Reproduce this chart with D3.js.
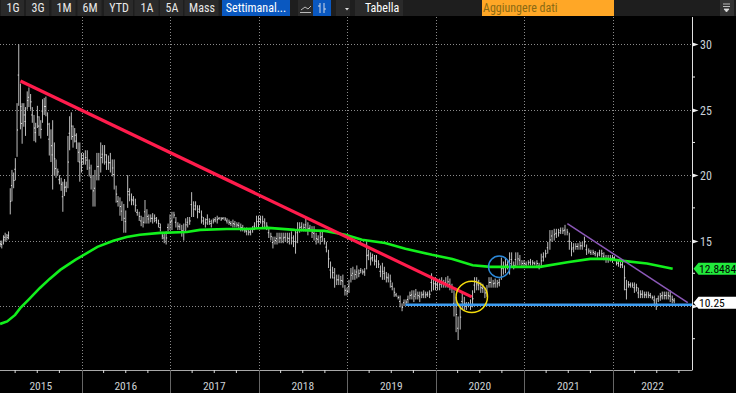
<!DOCTYPE html>
<html><head><meta charset="utf-8">
<script src="https://cdn.jsdelivr.net/npm/d3@7"></script>
<style>html,body{margin:0;padding:0;background:#000;overflow:hidden}svg{display:block}</style>
</head><body><svg id="c" width="736" height="393"></svg>
<script>
// weekly [low, high], one list per calendar year
const bars2015=[[14.5,15],[14.4,15],[14.7,15.4],[14.9,15.6],[15,15.5],[15.1,15.7],[17,19],[18,20.4],[19,20.2],[19.6,21.3],[21.4,25.5],[25.3,30],[23.5,27],[22.4,25.5],[23.7,25.5],[23,25.2],[25,26.4],[25.2,26.7],[25,26.2],[24,25.2],[22.6,24.6],[22.5,24],[23.6,25.3],[23,24.5],[22.8,24.2],[24,25.8],[24.6,25.9],[24.5,26],[23,24.8],[21.5,24],[21,23.5],[18.9,24.2],[20,22.5],[19.8,21.2],[20,20.5],[19.3,20],[18.8,19.8],[17.2,19.5],[18.4,19.7],[18.7,19.5],[19,23],[21.9,24.5],[22.7,24.8],[22.1,23.8],[22.5,23.6],[22,23.2],[21,22.5],[19.5,22.5]];
const bars2016=[[20.2,21.7],[20.8,21.7],[20.8,21.9],[20.4,21.9],[19.9,21.2],[18.9,20.8],[17.6,20],[17.6,20.4],[19.6,21.7],[19.6,21.7],[20.2,22.5],[20.9,22.3],[20.8,22.3],[20.4,21.6],[20.4,21.5],[20.2,21.7],[19.9,21.2],[18.9,21.2],[17.9,19.2],[17.6,18.4],[16.9,18.3],[16.5,18],[15.6,17.8],[15.6,17.3],[17.5,20],[18,19],[17.7,18.6],[17.7,18.4],[17.2,18.2],[16.9,17.4],[16.5,17.2],[16.1,16.9],[16,16.8],[16.3,18.1],[16.3,17.4],[16.3,17],[16.4,17],[16.3,17.1],[16.4,17],[16.3,16.8],[16,16.6],[15.7,16.3],[15.1,15.6],[14.8,15.6],[14.7,15.7],[15.7,16.3]];
const bars2017=[[15.8,17],[15.8,17.2],[16.7,17.2],[16,16.8],[15.8,16.4],[15.8,16.3],[15.3,16.2],[15,16.3],[15.7,16.7],[16,16.8],[16.2,16.8],[16.8,18.7],[16.8,18],[17.3,18],[16.7,17.7],[17.1,17.7],[16.3,17.3],[16.2,16.8],[16,16.7],[16.2,17],[16.2,16.7],[16,16.6],[16.3,16.7],[16.4,16.8],[16.3,16.9],[16.6,16.8],[16.5,16.8],[16.6,16.8],[16.5,16.8],[16.3,16.7],[16.2,16.6],[16.1,16.5],[16,16.6],[16,16.5],[16,16.4],[15.9,16.4],[15.7,16.3],[15.7,16.2],[15.6,16],[15.4,16],[15.4,15.9],[15.4,15.9],[15.6,16.1],[15.8,16.4],[16,16.9]];
const bars2018=[[16,16.9],[16.3,16.9],[16,16.9],[16,16.7],[15.8,16.4],[15.2,16],[15,15.6],[14.4,15.3],[14.7,15.3],[14.7,15.6],[14.8,15.6],[14.8,15.6],[14.8,15.6],[14.9,15.6],[14.8,15.6],[14.7,15.6],[14.7,15.7],[14.5,15.4],[14,15.8],[14.8,16.4],[15.6,16.4],[15.7,16.4],[15.7,16.3],[15.7,16.7],[15.4,16.4],[15.7,16.2],[15.2,16.1],[15,16.1],[14.7,15.6],[14.8,15.4],[14.7,15.8],[14.9,15.7],[14.7,15.2],[14.1,14.9],[12.9,14.3],[12.1,13.4],[12.1,13],[11.4,12.9],[11.6,12.4],[11.6,12.4],[11.6,12.3],[11.4,12.4],[10.8,11.6]];
const bars2019=[[10.8,11.4],[11,12],[11.8,12.9],[12,13],[12,12.8],[12.1,13.1],[12.2,12.8],[12.5,12.9],[12.4,12.8],[12.3,12.9],[12.8,14.9],[13.5,14.3],[13.1,14.1],[13.4,14],[13.1,13.9],[12.9,13.9],[12.9,13.5],[12.2,13.1],[12,13.3],[12,13],[11.8,12.6],[11.8,12.5],[11.4,12.4],[11.2,11.8],[10.7,11.4],[10.7,11],[10.5,10.8],[9.9,10.8],[9.6,10.2],[10,10.5],[10.1,10.5],[10.2,10.8],[10.5,11.1],[10.5,11.2],[10.3,11.2],[10.5,11.3],[10.5,11.1],[10.3,11.1],[10.6,11.1],[10.6,11.2],[10.6,11.1],[10.7,11.1],[10.6,11.2],[11.1,12.5],[11.2,12.2]];
const bars2020=[[11.2,12.2],[11.2,12],[11.2,12.1],[11.4,12.2],[11.4,12],[11.4,12.2],[11.4,12.3],[11.2,12.1],[11,11.7],[9.2,11.2],[8,10.7],[7.4,9.2],[8.2,10.1],[9.7,11],[9.7,10.7],[9.7,10.3],[9.9,10.3],[9.7,10.5],[9.9,11.2],[11,12.2],[11.2,12.2],[11.2,12],[11,11.8],[11,11.7],[10.6,11.4],[10.7,11.6],[11.4,12.2],[11.4,12.2],[11.4,12],[11.4,12.1],[11.4,12],[11.5,12.1],[12,13.7],[12.4,13.4],[12.5,13.7],[12.8,13.5],[12.4,14.1],[13,14.1],[12.8,13.4],[13,14.1],[13.1,14.1],[13.1,13.9],[13,13.5]];
const bars2021=[[13,13.5],[13,13.4],[13.1,13.5],[13.1,13.6],[13.1,13.5],[13.1,13.4],[13,13.5],[12.8,13.3],[12.9,14],[13.4,14.1],[13.7,14.3],[14,14.9],[14.3,15.8],[14.9,15.8],[15,15.9],[15.2,15.9],[15.3,15.9],[15.5,16],[15.5,16],[15.4,16.2],[15.4,15.9],[14.3,15.6],[13.8,14.9],[14.1,14.8],[14.3,14.8],[14.3,14.8],[14.3,14.9],[14.3,14.9],[14.5,15.3],[13.9,14.7],[14,14.4],[13.9,14.3],[13.9,14.3],[13.8,14.2],[13.7,14.1],[13.8,14.3],[13.7,14.3],[13.5,14.1],[13.3,13.9],[13.3,13.9],[13.4,13.9]];
const bars2022=[[13.3,13.9],[13.5,13.8],[13.1,13.5],[13,13.5],[12.9,13.4],[12.9,13.4],[11.2,13.1],[10.5,12],[11.4,11.9],[11.4,11.8],[11.4,11.8],[11,11.8],[11.1,11.7],[10.6,11.4],[10.6,11.2],[10.6,11.2],[10.6,11.1],[10.6,11.1],[10.6,11.1],[10.6,11],[10.5,10.8],[10.1,10.8],[9.7,10.6],[10.3,10.8],[10.4,11],[10.5,11.1],[10.5,11.1],[10.5,11.1],[10.5,11.1],[10.3,11.2],[10.2,10.8],[10.2,10.6]];
const barYears=[bars2015,bars2016,bars2017,bars2018,bars2019,bars2020,bars2021,bars2022];
const barYearStart=[2015.08,2016,2017,2018,2019,2020,2021,2022];
const barYearEnd=[2016,2017,2018,2019,2020,2021,2022,2022.72];

const maYears=[2015.08,2015.16,2015.25,2015.31,2015.40,2015.53,2015.64,2015.76,2015.93,2016.18,2016.36,2016.51,2016.66,2016.89,2017.19,2017.34,2017.64,2017.85,2018.11,2018.41,2018.75,2018.98,2019.17,2019.43,2019.66,2019.96,2020.19,2020.42,2020.62,2020.95,2021.18,2021.49,2021.75,2021.94,2022.12,2022.39,2022.68];
const maValues=[8.63,8.82,9.32,9.85,10.47,11.38,12.07,12.76,13.52,14.52,14.98,15.28,15.44,15.59,15.66,15.82,15.89,15.89,15.97,15.82,15.74,15.44,15.06,14.82,14.37,13.91,13.6,13.12,12.99,12.99,12.99,13.35,13.6,13.6,13.45,13.25,12.85];

const redYears=[2015.31,2020.41], redValues=[27.2,10.7];
const blueYears=[2019.66,2022.9], blueValues=[10.1,10.1];
const purpleYears=[2021.49,2022.85], purpleValues=[16.3,10.25];
const yellowCircle={year:2020.41,value:10.7,r:15.7};
const blueCircle={year:2020.72,value:13.0,r:10.7};

const yTicks=[30,25,20,15,10];
const yLabels=[30,25,20,15];
const yMinor=[27.5,22.5,17.5,12.5,7.5];
const yearLabels=[2015,2016,2017,2018,2019,2020,2021,2022];
const yearLines=[2016,2017,2018,2019,2020,2021,2022];
const lastMA="12.8484", lastPrice="10.25";
const leftButtons=["1G","3G","1M","6M","YTD","1A","5A","Mass"];

const svg=d3.select("#c");
const narrow="'Liberation Sans Narrow','Roboto Condensed','Liberation Sans',sans-serif";
const x=d3.scaleLinear().domain([2016,2022]).range([81.5,612.5]);
const y=d3.scaleLinear().domain([10,30]).range([306,44.3]);
const plotR=692.5, axisY=370;

// grid
const grid=svg.append("g").attr("stroke","#8a8a8a").attr("stroke-dasharray","1,2").attr("stroke-width",1);
yTicks.forEach(t=>grid.append("line").attr("x1",0).attr("x2",plotR).attr("y1",Math.round(y(t))+.5).attr("y2",Math.round(y(t))+.5));
yearLines.forEach(t=>grid.append("line").attr("x1",Math.round(x(t))+.5).attr("x2",Math.round(x(t))+.5).attr("y1",17).attr("y2",axisY));

// price bars
const bars=svg.append("g");
barYears.forEach((list,k)=>{
  const pos=d3.scaleLinear().domain([0,list.length]).range([barYearStart[k],barYearEnd[k]]);
  list.forEach((d,i)=>{
    const xp=x(pos(i));
    bars.append("line").attr("x1",xp).attr("x2",xp).attr("y1",y(d[0])).attr("y2",y(d[1])).attr("stroke","#bdbdbd").attr("stroke-width",1);
    const side=i%2?-1:1;
    bars.append("line").attr("x1",xp).attr("x2",xp+side).attr("y1",y((d[0]+d[1])/2)).attr("y2",y((d[0]+d[1])/2)).attr("stroke","#fff").attr("stroke-width",.9);
  });
});

const line=d3.line().x(d=>x(d[0])).y(d=>y(d[1]));
const pathOf=(xs,ys,col,w)=>svg.append("path").attr("d",line(d3.zip(xs,ys))).attr("fill","none").attr("stroke",col).attr("stroke-width",w);
pathOf(maYears,maValues,"#12f01c",2.6);
pathOf(redYears,redValues,"#ff1c4c",3.2);
pathOf(blueYears,blueValues,"#3c9cf0",2.6);
pathOf(purpleYears,purpleValues,"#8c58b8",1.5);
[[yellowCircle,"#f4dc0c"],[blueCircle,"#2c88d8"]].forEach(([c,col])=>svg.append("circle").attr("cx",x(c.year)).attr("cy",y(c.value)).attr("r",c.r).attr("fill","none").attr("stroke",col).attr("stroke-width",1.5));

// right axis
svg.append("line").attr("x1",plotR).attr("x2",plotR).attr("y1",17).attr("y2",axisY).attr("stroke","#e0e0e0");
yTicks.forEach(t=>{
  const p=Math.round(y(t))+.5;
  svg.append("path").attr("d",`M${plotR},${p-2}L${plotR+6},${p}L${plotR},${p+2}Z`).attr("fill","#eee");
});
yLabels.forEach(t=>{
  const p=Math.round(y(t))+.5;
  svg.append("text").attr("x",700).attr("y",p+4).text(t).attr("fill","#c8d0d8").attr("font-family",narrow).attr("font-size",12);
});
yMinor.forEach(t=>svg.append("line").attr("x1",plotR).attr("x2",plotR+2.5).attr("y1",y(t)).attr("y2",y(t)).attr("stroke","#eee"));

// bottom axis
svg.append("line").attr("x1",0).attr("x2",plotR).attr("y1",axisY+.5).attr("y2",axisY+.5).attr("stroke","#a8a8a8");
yearLines.forEach(t=>svg.append("line").attr("x1",Math.round(x(t))+.5).attr("x2",Math.round(x(t))+.5).attr("y1",axisY).attr("y2",393).attr("stroke","#666"));
yearLabels.forEach(yr=>[.25,.5,.75].forEach(f=>{
  const v=yr+f; if(x(v)<0||x(v)>plotR) return;
  svg.append("line").attr("x1",x(v)).attr("x2",x(v)).attr("y1",axisY).attr("y2",axisY+3).attr("stroke","#ddd");
}));
yearLabels.forEach(yr=>{
  const mid=(Math.max(0,x(yr))+Math.min(plotR,x(yr+1)))/2;
  svg.append("text").attr("x",mid).attr("y",390).attr("text-anchor","middle").text(yr).attr("fill","#ccd0d4").attr("font-family",narrow).attr("font-size",11.5);
});

// last-value tags
const tag=(v,txt,fill,h)=>{
  const c=y(v);
  svg.append("path").attr("d",`M${plotR+1},${c}L${plotR+6},${c-h/2}H736V${c+h/2}H${plotR+6}Z`).attr("fill",fill);
  svg.append("text").attr("x",699).attr("y",c+4).text(txt).attr("fill","#000").attr("font-family",narrow).attr("font-size",11.5);
};
tag(12.85,lastMA,"#22ea3c",12);
tag(10.25,lastPrice,"#fff",12);

// toolbar
svg.append("rect").attr("width",736).attr("height",16).attr("fill","#1e1e1e");
const tb=(x0,w,fill)=>svg.append("rect").attr("x",x0).attr("y",0).attr("width",w).attr("height",16).attr("fill",fill);
const tt=(s,cx,fill,a="middle")=>svg.append("text").attr("x",cx).attr("y",12).attr("text-anchor",a).text(s).attr("fill",fill).attr("font-family",narrow).attr("font-size",12);
const btnX=[13,38,64,90,119,147,172,202], btnW=[24,24,25,25,30,25,24,35];
leftButtons.forEach((b,i)=>{tb(btnX[i]-btnW[i]/2,btnW[i]-1,"#2a2a2a");tt(b,btnX[i],"#e8e8e8");});
tb(222,68,"#0a58c0"); tt("Settimanal...",256,"#fff");
tb(298,15,"#2a2a2a"); tb(313,18,"#0a58c0");
svg.append("path").attr("d","M301,10L305,7L308,9L311,6M300,12.5H311").attr("fill","none").attr("stroke","#bbb");
svg.append("path").attr("d","M320,3V13M324,3V13M318,6H320M324,9H326").attr("fill","none").attr("stroke","#cfd8e8");
tb(336,14,"#2a2a2a"); svg.append("path").attr("d","M345,8h4l-2,2.5Z").attr("fill","#ddd");
tb(355,48,"#2a2a2a"); tt("Tabella",365,"#fff","start");
tb(482,132,"#ffa726"); tt("Aggiungere dati",483,"#8a6a14","start");
tb(720,14,"#333"); svg.append("path").attr("d","M723,4h7M723,6.5h7M724,9h5l-2.5,3Z").attr("fill","#ddd").attr("stroke","#ddd").attr("stroke-width",.8);
</script></body></html>
